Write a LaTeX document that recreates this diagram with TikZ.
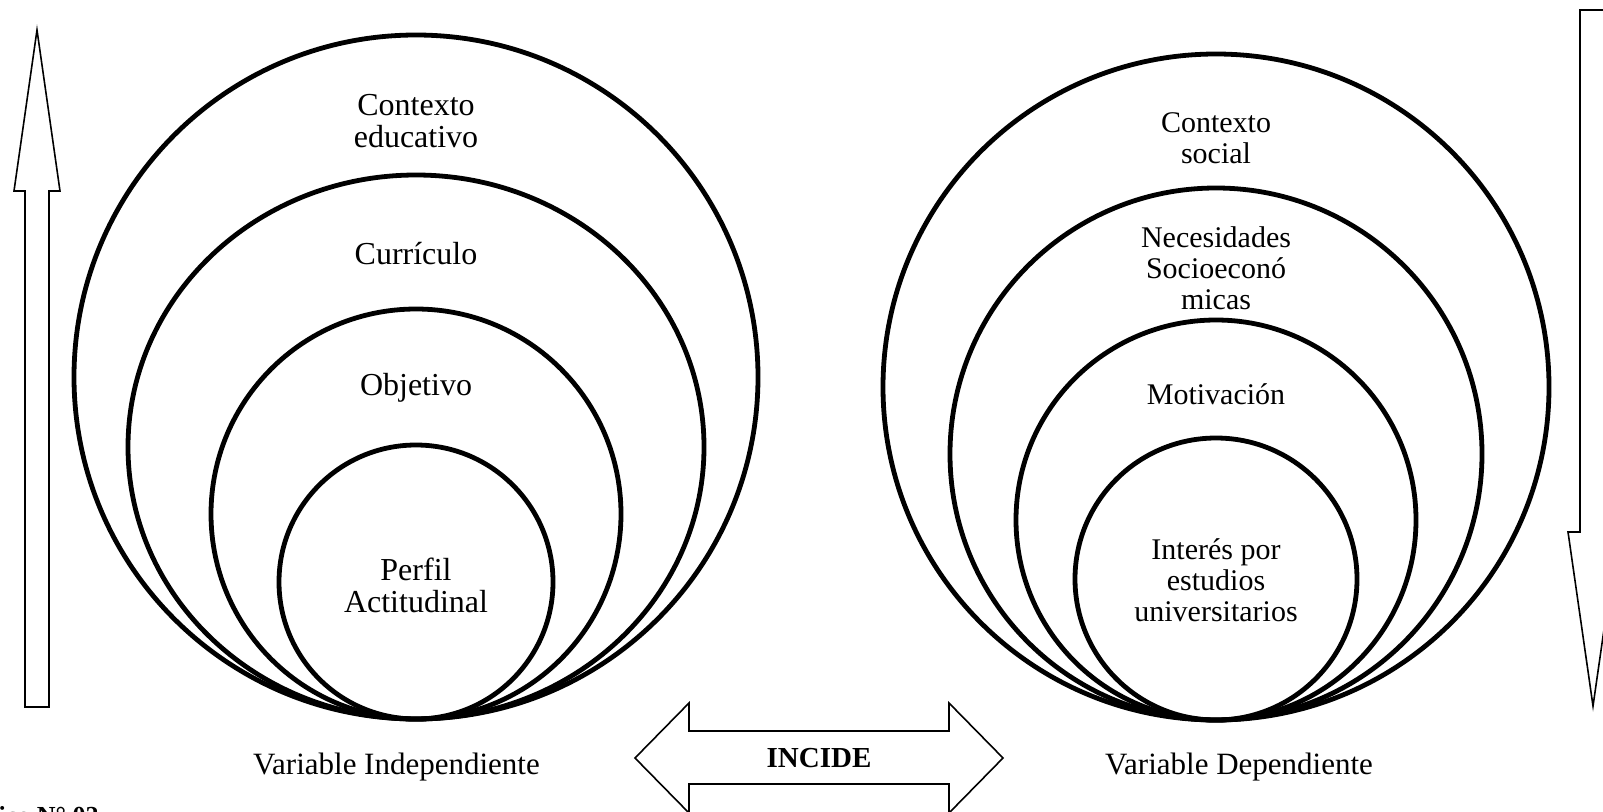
\documentclass[tikz,border=0pt]{standalone}
\usepackage{fontspec}
\setmainfont{Liberation Serif}
\begin{document}
\begin{tikzpicture}[x=1pt,y=-1pt,
  ring/.style={line width=4.8pt},
  blockarrow/.style={draw, line width=1.6pt, line join=miter, fill=white},
  lbl/.style={align=center, font=\fontsize{30}{31}\selectfont, inner sep=0pt},
  lblbig/.style={align=center, font=\fontsize{32}{32}\selectfont, inner sep=0pt},
  varlbl/.style={font=\fontsize{31}{32}\selectfont, inner sep=0pt, anchor=base west},
  captiontext/.style={font=\fontsize{26}{28}\selectfont\bfseries, inner sep=0pt}]
\useasboundingbox (0,0) rectangle (1603,811);
\fill[white] (0,0) rectangle (1603,811);

% left group
\draw[ring] (416,377) circle[radius=342];
\draw[ring] (416,447) ellipse[x radius=288, y radius=272];
\draw[ring] (416,514) circle[radius=205];
\draw[ring] (416,582) circle[radius=137];
\node[lblbig] (ce) at (416,121) {Contexto\\educativo};
\node[lblbig] (cu) at (416,254) {Currículo};
\node[lblbig] (ob) at (416,388) {Objetivo};
\node[lblbig] (pa) at (416,585) {Perfil\\Actitudinal};

% right group
\draw[ring] (1216,387) circle[radius=333];
\draw[ring] (1216,454) circle[radius=266];
\draw[ring] (1216,520) circle[radius=200];
\draw[ring] (1216,579) circle[radius=141];
\node[lbl] (cs) at (1216,138) {Contexto\\social};
\node[lbl] (ns) at (1216,268) {Necesidades\\Socioeconó\\micas};
\node[lbl] (mo) at (1216,394) {Motivación};
\node[lbl] (ie) at (1216,580) {Interés por\\estudios\\universitarios};

% arrows
\draw[blockarrow] (25,707) -- (25,191) -- (14,191) -- (37,30) -- (60,191) -- (49,191) -- (49,707) -- cycle;
\draw[blockarrow] (1580,10) -- (1580,532) -- (1568,532) -- (1593,706) -- (1618,532) -- (1606,532) -- (1606,10) -- cycle;
\draw[blockarrow] (635,758) -- (689,703) -- (689,731) -- (949,731) -- (949,703) -- (1003,758) -- (949,813) -- (949,784) -- (689,784) -- (689,813) -- cycle;
\node[font=\fontsize{29}{31}\selectfont\bfseries, inner sep=0pt] (inc) at (819,758) {INCIDE};

% labels
\node[varlbl] (vi) at (253,774) {Variable Independiente};
\node[varlbl] (vd) at (1105,774) {Variable Dependiente};
\node[captiontext, anchor=base west] (gr) at (-55,824) {Gráfico N° 02};
\end{tikzpicture}
\end{document}
